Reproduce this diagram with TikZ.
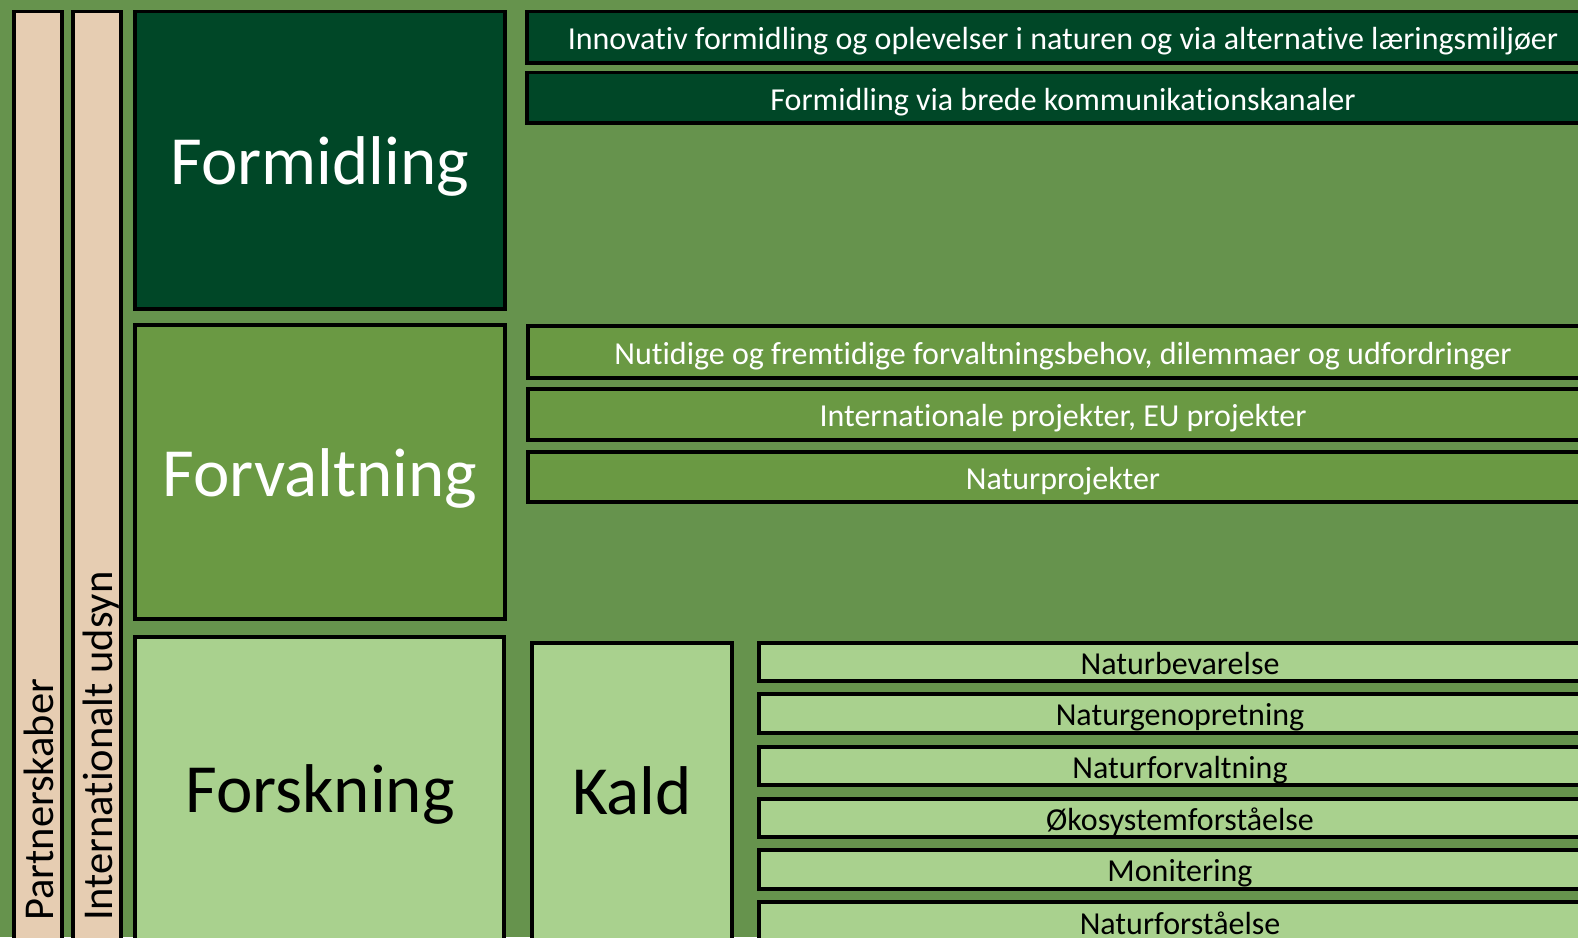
\documentclass[tikz,border=0pt]{standalone}
\usepackage{fontspec}
\setmainfont{Carlito}[Ligatures={NoCommon}]
\usepackage{tikz}

\definecolor{bggreen}{RGB}{102,147,77}
\definecolor{darkgreen}{RGB}{0,71,39}
\definecolor{midgreen}{RGB}{106,153,67}
\definecolor{lightgreen}{RGB}{169,209,142}
\definecolor{beige}{RGB}{230,205,178}

\begin{document}
\begin{tikzpicture}[x=1pt,y=-1pt,
    box/.style={draw=black,line width=3.5pt},
    bigtext/.style={anchor=base,inner sep=0pt,font=\fontsize{69}{80}\selectfont},
    sidetext/.style={rotate=90,anchor=base west,inner sep=0pt,font=\fontsize{42.5}{50}\selectfont},
    bartext/.style={anchor=base,inner sep=0pt,font=\fontsize{32}{38}\selectfont}]
            \useasboundingbox (0,0) rectangle (1578,937);
            \clip (0,0) rectangle (1578,937);
            \fill[bggreen] (0,0) rectangle (1578,937);

            % side bars
            \draw[box,fill=beige] (14,11.5) rectangle (62,960);
            \node[sidetext] (partner) at (53,921) {Partnerskaber};
            \draw[box,fill=beige] (73,11.5) rectangle (121,960);
            \node[sidetext] (udsyn) at (112,921) {Internationalt udsyn};

            % Formidling
            \draw[box,fill=darkgreen] (135,11.5) rectangle (505,309);
            \node[bigtext,text=white] (formidling) at (320,184) {Formidling};
            \draw[box,fill=darkgreen] (527,11.5) rectangle (1602,63);
            \node[bartext,text=white] (innovativ) at (1063,49.6) {Innovativ formidling og oplevelser i naturen og via alternative læringsmiljøer};
            \draw[box,fill=darkgreen] (527,72.5) rectangle (1602,123);
            \node[bartext,text=white] (kanaler) at (1063,110) {Formidling via brede kommunikationskanaler};

            % Forvaltning
            \draw[box,fill=midgreen] (135,325) rectangle (505,619);
            \node[bigtext,text=white] (forvaltning) at (320,496) {Forvaltning};
            \draw[box,fill=midgreen] (528,326) rectangle (1602,378);
            \node[bartext,text=white] (behov) at (1063,364.3) {Nutidige og fremtidige forvaltningsbehov, dilemmaer og udfordringer};
            \draw[box,fill=midgreen] (528,389) rectangle (1602,440);
            \node[bartext,text=white] (euprojekter) at (1063,426.8) {Internationale projekter, EU projekter};
            \draw[box,fill=midgreen] (528,452) rectangle (1602,502);
            \node[bartext,text=white] (naturprojekter) at (1063,489.3) {Naturprojekter};

            % Forskning
            \draw[box,fill=lightgreen] (135,637) rectangle (504,960);
            \node[bigtext] (forskning) at (320,812) {Forskning};
            \draw[box,fill=lightgreen] (532,643) rectangle (732,960);
            \node[bigtext] (kald) at (632,814) {Kald};

            \draw[box,fill=lightgreen] (759,643) rectangle (1603,681);
            \node[bartext] (bevarelse) at (1180,674.3) {Naturbevarelse};
            \draw[box,fill=lightgreen] (759,694) rectangle (1603,733);
            \node[bartext] (genopretning) at (1180,725.8) {Naturgenopretning};
            \draw[box,fill=lightgreen] (759,747) rectangle (1603,785);
            \node[bartext] (naturforv) at (1180,778.3) {Naturforvaltning};
            \draw[box,fill=lightgreen] (759,799) rectangle (1603,837);
            \node[bartext] (oekosystem) at (1180,830.3) {Økosystemforståelse};
            \draw[box,fill=lightgreen] (759,850) rectangle (1603,889);
            \node[bartext] (monitering) at (1180,881.8) {Monitering};
            \draw[box,fill=lightgreen] (759,902) rectangle (1603,944);
            \node[bartext] (forstaaelse) at (1180,934) {Naturforståelse};
        \end{tikzpicture}
\end{document}
